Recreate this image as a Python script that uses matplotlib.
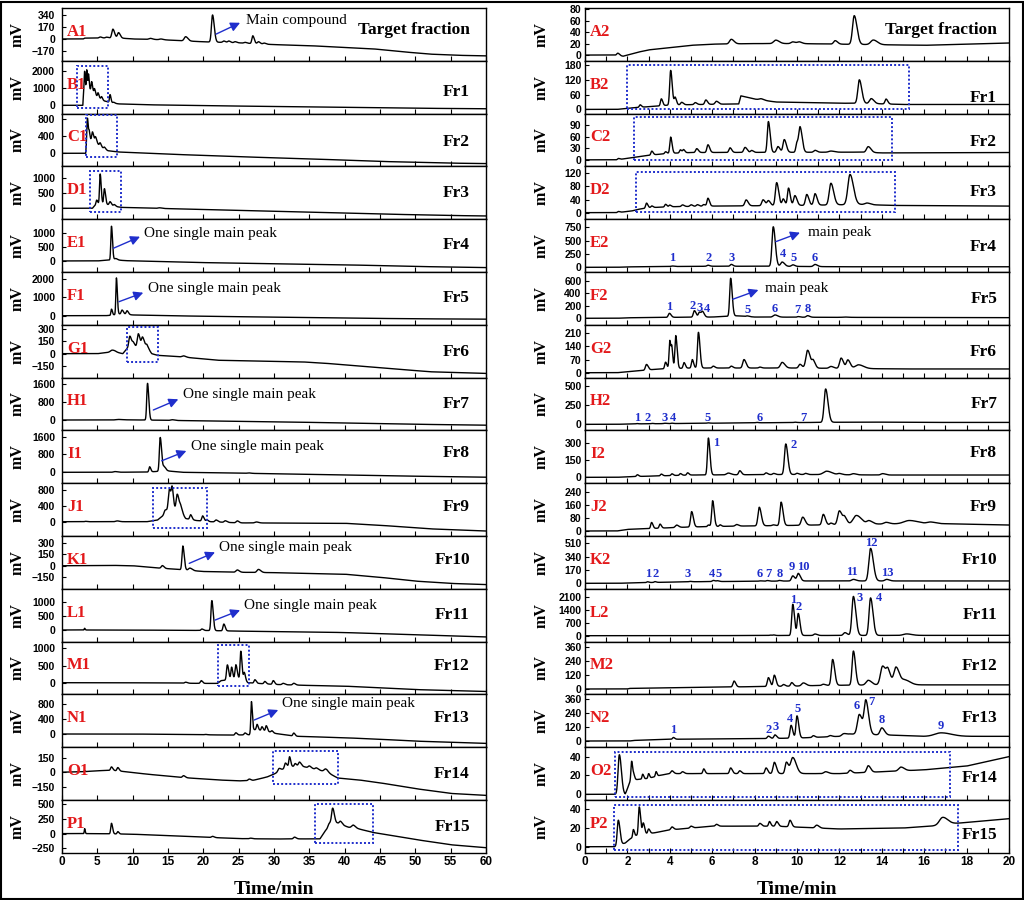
import numpy as np
import matplotlib
matplotlib.use("Agg")
import matplotlib.pyplot as plt
from matplotlib.patches import Rectangle
from matplotlib.ticker import MultipleLocator

# ---------------- data ----------------
# baselines: (time min, mV) knots; peaks: (time min, height mV, width min)
left_tags = ["A1", "B1", "C1", "D1", "E1", "F1", "G1", "H1",
             "I1", "J1", "K1", "L1", "M1", "N1", "O1", "P1"]
right_tags = ["A2", "B2", "C2", "D2", "E2", "F2", "G2", "H2",
              "I2", "J2", "K2", "L2", "M2", "N2", "O2", "P2"]
fraction_names = ["Target fraction"] + [f"Fr{i}" for i in range(1, 16)]

left_yticks = [[-170, 0, 170, 340], [0, 1000, 2000], [0, 400, 800], [0, 500, 1000],
               [0, 500, 1000], [0, 1000, 2000], [-150, 0, 150, 300], [0, 800, 1600],
               [0, 800, 1600], [0, 400, 800], [-150, 0, 150, 300], [0, 500, 1000],
               [0, 500, 1000], [0, 400, 800], [-150, 0, 150], [-250, 0, 250, 500]]
right_yticks = [[0, 20, 40, 60, 80], [0, 60, 120, 180], [0, 30, 60, 90], [0, 40, 80, 120],
                [0, 250, 500, 750], [0, 200, 400, 600], [0, 70, 140, 210], [0, 250, 500],
                [0, 150, 300], [0, 80, 160, 240], [0, 170, 340, 510], [0, 700, 1400, 2100],
                [0, 120, 240, 360], [0, 120, 240, 360], [0, 20, 40], [0, 20, 40]]

A1_base = [(0, 0), (3, 0), (3.2, 12), (8, 15), (10, 0), (14, -10), (20, -40), (25, -55), (30, -80),
           (35, -95), (41, -125), (44, -140), (48, -180), (52, -215), (56, -232), (60, -240)]
A1_peaks = [(5.4, 15, 0.15), (6.3, 12, 0.15), (7.2, 125, 0.15), (8.0, 75, 0.15), (12.5, 15, 0.2),
            (14.0, 10, 0.2), (17.5, 60, 0.2), (21.3, 385, 0.15), (22.9, 20, 0.15), (23.6, 22, 0.15),
            (24.5, 15, 0.15), (25.9, 12, 0.15), (27.0, 110, 0.13), (27.8, 30, 0.15), (28.6, 15, 0.15)]
B1_base = [(0, 0), (2.95, 0), (3.05, 800), (4.0, 900), (5.0, 500), (6.0, 250), (7.0, 150), (8.0, 80),
           (12, 30), (20, -20), (30, -70), (40, -120), (50, -170), (60, -200)]
B1_peaks = [(3.2, 1150, 0.06), (3.5, 1200, 0.06), (3.75, 900, 0.06), (4.2, 550, 0.08), (4.6, 300, 0.08),
            (5.1, 250, 0.08), (5.6, 150, 0.08), (6.8, 450, 0.08), (7.3, 50, 0.1)]
C1_base = [(0, 0), (3.35, 0), (3.5, 300), (4.5, 300), (5.5, 150), (6.5, 60), (8, 30), (15, -20),
           (25, -80), (35, -130), (45, -190), (55, -230), (60, -240)]
C1_peaks = [(3.6, 520, 0.07), (3.85, 200, 0.07), (4.3, 200, 0.1), (4.75, 120, 0.1), (5.4, 80, 0.1),
            (6.0, 40, 0.1)]
D1_base = [(0, 0), (4.3, 0), (4.6, 80), (5.5, 150), (6.5, 120), (7.5, 60), (8.5, 30), (15, -10),
           (25, -70), (35, -130), (45, -190), (55, -240), (60, -255)]
D1_peaks = [(4.9, 170, 0.1), (5.4, 1000, 0.09), (6.0, 520, 0.1), (6.8, 120, 0.12), (7.4, 60, 0.12),
            (13.8, 20, 0.2)]
E1_base = [(0, 0), (5, 0), (6.5, 30), (7.5, 40), (9, 10), (15, -30), (20, -60), (30, -100),
           (40, -140), (50, -200), (60, -240)]
E1_peaks = [(7.0, 1220, 0.09), (7.6, 50, 0.15)]
F1_base = [(0, 0), (6, 0), (7, 20), (8, 100), (9, 80), (10, 40), (15, 0), (20, -30), (30, -80),
           (40, -130), (50, -170), (60, -190)]
F1_peaks = [(7.0, 340, 0.08), (7.7, 2000, 0.08), (8.5, 220, 0.12), (9.2, 200, 0.12)]
G1_base = [(0, 0), (5, 0), (6.5, 15), (7.5, 20), (8.6, 0), (9.2, 60), (12, 80), (12.7, 0), (13.5, -20),
           (17, -40), (22, -80), (30, -95), (34, -100), (37, -115), (45, -170), (52, -220), (60, -240)]
G1_peaks = [(7.1, 25, 0.25), (9.6, 150, 0.15), (10.1, 60, 0.15), (10.8, 170, 0.15), (11.4, 120, 0.15),
            (12.0, 30, 0.15), (17.2, 15, 0.2)]
H1_base = [(0, 0), (7, 0), (8, 10), (10, 5), (14, -10), (20, -40), (30, -80), (40, -130),
           (50, -190), (60, -230)]
H1_peaks = [(8.0, 15, 0.3), (12.1, 1630, 0.11), (15.6, 30, 0.2)]
I1_base = [(0, 0), (6, 0), (12, 10), (13.5, 40), (15, 60), (17, 0), (25, -40), (35, -90),
           (45, -150), (55, -200), (60, -220)]
I1_peaks = [(7.5, 30, 0.2), (12.4, 230, 0.1), (13.9, 1520, 0.12), (14.45, 200, 0.15), (26.4, 20, 0.2)]
J1_base = [(0, 0), (12, 0), (13.5, 40), (15, 250), (16.5, 300), (17.5, 80), (19, 30), (21, 0),
           (25, -30), (40, -40), (45, -90), (52, -180), (60, -235)]
J1_peaks = [(3.3, 10, 0.1), (7.8, 20, 0.2), (14.6, 100, 0.15), (15.2, 560, 0.15), (15.6, 480, 0.12),
            (16.3, 400, 0.15), (16.8, 150, 0.15), (18.2, 120, 0.12), (19.9, 130, 0.12),
            (20.5, 40, 0.12), (21.8, 50, 0.15), (23.1, 40, 0.15), (24.8, 50, 0.15), (27.5, 25, 0.2)]
K1_base = [(0, 0), (7, 5), (10, 0), (13, -25), (16, -45), (20, -75), (25, -85), (30, -90),
           (40, -110), (45, -150), (50, -200), (55, -230), (60, -245)]
K1_peaks = [(14.2, 35, 0.15), (17.1, 310, 0.12), (18.1, 30, 0.2), (24.8, 30, 0.18), (27.8, 40, 0.2)]
L1_base = [(0, 0), (10, 0), (15, -10), (20, -15), (25, -40), (35, -70), (40, -90), (50, -170), (60, -245)]
L1_peaks = [(3.2, 60, 0.05), (19.8, 50, 0.12), (21.2, 1060, 0.12), (22.9, 240, 0.12)]
M1_base = [(0, 0), (8, 0), (12, -5), (20, -20), (22, -20), (22.5, 60), (25.5, 120), (26.3, 0),
           (30, -50), (35, -80), (40, -100), (45, -150), (50, -200), (60, -255)]
M1_peaks = [(17.5, 30, 0.15), (19.7, 80, 0.12), (23.4, 440, 0.12), (24.0, 360, 0.1), (24.6, 420, 0.12),
            (25.3, 800, 0.1), (25.8, 220, 0.1), (27.3, 100, 0.12), (28.7, 70, 0.12), (29.9, 110, 0.12),
            (31.3, 40, 0.15), (32.8, 50, 0.15)]
N1_base = [(0, 0), (10, 0), (20, -20), (24, -30), (26.5, -20), (27, 120), (29, 80), (30, 20),
           (33, -60), (40, -100), (45, -140), (50, -190), (60, -250)]
N1_peaks = [(20.3, 10, 0.15), (24.6, 60, 0.12), (25.9, 50, 0.12), (26.8, 800, 0.08), (27.6, 150, 0.1),
            (28.3, 100, 0.1), (28.9, 140, 0.1), (29.7, 50, 0.12), (32.8, 80, 0.12)]
O1_base = [(0, 0), (3, 5), (5, 15), (7, 20), (9, 5), (12, -20), (17, -55), (22, -80), (25, -90),
           (27, -85), (29, -50), (30, -20), (31, 20), (32, 60), (34, 60), (36, 30), (37.5, 0),
           (39, -60), (42, -80), (45, -110), (50, -170), (55, -220), (60, -240)]
O1_peaks = [(3.2, 10, 0.05), (7.0, 35, 0.12), (7.9, 35, 0.12), (17.2, 20, 0.15), (26.5, 15, 0.15),
            (30.7, 30, 0.15), (31.6, 50, 0.12), (32.2, 100, 0.1), (33.0, 30, 0.12), (33.6, 45, 0.15),
            (35.0, 20, 0.15), (36.0, 15, 0.15), (37.3, 30, 0.2)]
P1_base = [(0, 0), (5, 0), (10, -10), (15, -35), (20, -60), (25, -85), (30, -92), (33, -90),
           (36.5, -90), (37.2, 40), (38, 150), (39, 180), (40.5, 110), (42, 80), (44, 20), (45, 0),
           (50, -100), (55, -190), (60, -240)]
P1_peaks = [(3.2, 85, 0.05), (7.0, 180, 0.1), (7.9, 40, 0.1), (21.3, 20, 0.15), (26.7, 10, 0.15),
            (32.9, 30, 0.15), (37.8, 50, 0.15), (38.3, 270, 0.15), (39.4, 50, 0.15), (41.2, 50, 0.2)]

A2_base = [(0, 0), (1.4, 0), (1.8, -2), (2.5, 5), (3, 9), (4, 13), (5, 17), (6, 19), (8, 20),
           (10, 20), (12, 19), (14, 18), (16, 17), (18, 19), (20, 21)]
A2_peaks = [(1.55, 4, 0.05), (6.9, 8, 0.08), (9.0, 6, 0.1), (9.8, 3, 0.08), (10.1, 3, 0.08),
            (11.8, 6, 0.07), (12.7, 50, 0.08), (13.6, 8, 0.12)]
B2_base = [(0, 0), (1.5, 0), (2.5, 8), (3.5, 14), (4, 18), (7, 22), (7.25, 22), (7.35, 55), (8, 42),
           (9, 30), (12, 25), (13, 25), (15, 20), (20, 20)]
B2_peaks = [(2.6, 10, 0.04), (3.6, 28, 0.04), (4.04, 140, 0.045), (4.25, 30, 0.04), (4.56, 10, 0.05),
            (5.2, 8, 0.05), (5.7, 18, 0.05), (6.2, 12, 0.06), (8.3, 5, 0.08), (12.94, 95, 0.07),
            (13.5, 20, 0.08), (14.2, 20, 0.05)]
C2_base = [(0, 0), (1.5, 0), (2.5, 8), (3.2, 13), (4, 17), (5, 19), (13, 20), (14, 18), (20, 19)]
C2_peaks = [(1.57, 3, 0.04), (3.15, 10, 0.04), (3.8, 5, 0.04), (4.04, 42, 0.04), (4.5, 8, 0.04),
            (4.65, 8, 0.04), (5.27, 10, 0.05), (5.8, 20, 0.05), (6.84, 12, 0.05), (7.55, 13, 0.06),
            (7.86, 5, 0.05), (8.65, 80, 0.05), (9.1, 15, 0.06), (9.4, 33, 0.06), (10.0, 25, 0.05),
            (10.15, 62, 0.06), (10.85, 5, 0.06), (11.6, 3, 0.1), (13.36, 15, 0.08)]
D2_base = [(0, 0), (1.5, 0), (2.2, 5), (2.5, 10), (3, 15), (4, 18), (6, 20), (10, 22), (13, 25),
           (14.5, 22), (20, 20)]
D2_peaks = [(1.57, 3, 0.04), (2.9, 15, 0.04), (3.15, 5, 0.04), (3.8, 8, 0.04), (4.0, 5, 0.04),
            (4.6, 5, 0.05), (5.0, 5, 0.05), (5.3, 5, 0.05), (5.6, 5, 0.05), (5.8, 24, 0.045),
            (7.6, 18, 0.06), (8.4, 18, 0.06), (8.65, 15, 0.06), (9.04, 70, 0.06), (9.35, 20, 0.05),
            (9.6, 53, 0.05), (9.9, 30, 0.06), (10.46, 33, 0.06), (10.85, 35, 0.06), (11.6, 66, 0.08),
            (12.5, 92, 0.1), (13.3, 5, 0.1)]
E2_base = [(0, 0), (1.5, 0), (2, 8), (4, 15), (6, 20), (9, 20), (12, 10), (20, 10)]
E2_peaks = [(4.1, 10, 0.05), (5.8, 20, 0.05), (6.9, 35, 0.05), (8.88, 740, 0.06), (9.3, 80, 0.07),
            (9.8, 30, 0.06), (10.85, 40, 0.07)]
F2_base = [(0, 0), (1.5, 0), (2, 8), (4, 15), (6, 20), (7.2, 40), (8, 20), (12, 15), (20, 10)]
F2_peaks = [(3.98, 65, 0.05), (5.16, 105, 0.05), (5.4, 80, 0.05), (5.55, 80, 0.05), (6.87, 610, 0.045),
            (7.66, 10, 0.05), (8.96, 35, 0.08), (10.06, 10, 0.05), (10.5, 25, 0.06), (12.26, 5, 0.1)]
G2_base = [(0, 0), (1.5, 0), (2, 5), (2.5, 10), (3, 15), (3.5, 20), (5, 25), (10, 25), (15, 20), (20, 20)]
G2_peaks = [(2.9, 30, 0.05), (3.8, 35, 0.04), (4.0, 150, 0.035), (4.1, 90, 0.03), (4.28, 175, 0.04),
            (4.67, 30, 0.04), (5.06, 45, 0.04), (5.35, 190, 0.045), (6.05, 10, 0.05), (6.9, 10, 0.05),
            (7.5, 45, 0.06), (8.25, 5, 0.05), (9.3, 30, 0.08), (10.14, 20, 0.06), (10.5, 95, 0.08),
            (10.77, 35, 0.06), (11.6, 10, 0.08), (12.08, 55, 0.07), (12.4, 45, 0.07), (12.9, 20, 0.15)]
H2_base = [(0, 0), (1.5, 0), (2, 5), (4, 10), (8, 20), (11, 25), (13, 30), (16, 25), (20, 25)]
H2_peaks = [(2.45, 4, 0.04), (3.15, 5, 0.04), (3.75, 5, 0.04), (4.1, 5, 0.04), (5.8, 5, 0.05),
            (8.1, 5, 0.05), (9.9, 5, 0.05), (11.35, 435, 0.07)]
I2_base = [(0, 0), (1.5, 0), (2, 5), (3, 10), (4, 15), (5, 20), (10, 25), (14, 20), (20, 20)]
I2_peaks = [(2.47, 15, 0.04), (3.6, 15, 0.04), (4.1, 15, 0.04), (4.5, 15, 0.04), (4.84, 20, 0.04),
            (5.82, 320, 0.045), (6.76, 15, 0.08), (7.3, 35, 0.05), (8.54, 15, 0.05), (8.9, 10, 0.05),
            (9.47, 265, 0.06), (10.0, 10, 0.05), (10.4, 10, 0.05), (11.4, 30, 0.15), (12.0, 10, 0.08),
            (12.66, 10, 0.08), (14.04, 12, 0.08)]
J2_base = [(0, 0), (1.5, 0), (2, 10), (3, 15), (4, 20), (5, 25), (7, 30), (10, 35), (12, 40),
           (15, 45), (17, 45), (20, 37)]
J2_peaks = [(3.14, 37, 0.04), (3.54, 25, 0.04), (4.32, 15, 0.06), (5.03, 95, 0.05), (5.82, 10, 0.04),
            (6.02, 160, 0.045), (6.37, 10, 0.04), (7.15, 10, 0.06), (8.22, 115, 0.06), (8.88, 5, 0.05),
            (9.25, 145, 0.055), (10.27, 50, 0.07), (11.24, 65, 0.06), (11.6, 10, 0.05), (12.0, 85, 0.08),
            (12.25, 40, 0.07), (12.8, 55, 0.15), (13.4, 20, 0.1), (14.2, 10, 0.1), (15.3, 20, 0.25),
            (16.3, 10, 0.15)]
K2_base = [(0, 0), (1.5, 0), (3, 10), (5, 20), (10, 30), (20, 30)]
K2_peaks = [(2.95, 10, 0.04), (3.3, 10, 0.04), (4.95, 5, 0.05), (6.05, 15, 0.05), (6.25, 10, 0.05),
            (8.25, 5, 0.05), (8.6, 8, 0.05), (9.17, 8, 0.05), (9.8, 65, 0.06), (10.06, 95, 0.06),
            (12.66, 20, 0.08), (13.47, 415, 0.08), (14.23, 20, 0.08)]
L2_base = [(0, 0), (5, 0), (8, 10), (20, 20)]
L2_peaks = [(8.73, 20, 0.04), (8.9, 30, 0.04), (9.8, 1680, 0.05), (10.06, 1180, 0.05), (10.85, 80, 0.06),
            (12.26, 150, 0.07), (12.66, 2100, 0.07), (13.47, 2020, 0.07), (15.17, 80, 0.15)]
M2_base = [(0, 0), (2, 0), (2.1, 5), (4, 10), (8, 20), (10, 25), (11, 30), (14, 35), (20, 35)]
M2_peaks = [(7.03, 50, 0.05), (8.65, 75, 0.05), (8.93, 95, 0.05), (9.36, 15, 0.05), (9.75, 30, 0.05),
            (10.3, 25, 0.08), (11.24, 10, 0.06), (11.68, 220, 0.06), (12.66, 290, 0.06), (13.36, 40, 0.1),
            (14.04, 160, 0.1), (14.3, 100, 0.08), (14.67, 150, 0.1), (15.1, 40, 0.15)]
N2_base = [(0, 0), (2.1, 0), (2.3, 5), (4, 15), (8, 20), (10, 25), (12, 40), (12.5, 60), (14.5, 50),
           (16, 40), (20, 40)]
N2_peaks = [(4.17, 15, 0.04), (8.65, 20, 0.05), (8.96, 30, 0.05), (9.72, 110, 0.05), (10.0, 190, 0.05),
            (10.77, 15, 0.05), (11.56, 10, 0.06), (12.2, 15, 0.08), (12.94, 170, 0.09), (13.25, 280, 0.08),
            (14.0, 60, 0.08), (16.8, 30, 0.3)]
O2_base = [(0, 0), (1.45, 0), (1.9, 0), (2.15, 15), (3, 17), (3.5, 20), (4, 22), (6, 22), (9, 22),
           (12, 22), (16, 26), (18, 30), (20, 40)]
O2_peaks = [(1.62, 42, 0.06), (2.2, 20, 0.03), (2.3, 5, 0.03), (2.72, 5, 0.03), (3.0, 5, 0.03),
            (3.35, 5, 0.03), (4.1, 3, 0.05), (4.6, 2, 0.05), (5.6, 5, 0.04), (6.87, 6, 0.05), (7.3, 3, 0.05),
            (8.54, 6, 0.05), (8.93, 12, 0.06), (9.5, 12, 0.06), (9.8, 17, 0.1), (11.35, 2, 0.08),
            (12.5, 3, 0.06), (13.36, 7, 0.07), (14.9, 4, 0.1)]
P2_base = [(0, 0), (1.4, 0), (1.9, 4), (2.1, 8), (2.4, 12), (3.3, 15), (4, 18), (5, 20), (6, 22),
           (9, 22), (11, 20), (12, 19), (15, 20), (16.3, 22), (17.5, 25), (20, 30)]
P2_peaks = [(1.57, 27, 0.05), (2.28, 8, 0.03), (2.56, 30, 0.04), (2.75, 12, 0.04), (3.0, 5, 0.04),
            (4.1, 3, 0.05), (5.0, 2, 0.05), (6.2, 2, 0.05), (8.25, 3, 0.05), (8.7, 5, 0.04),
            (9.04, 5, 0.05), (9.67, 7, 0.05), (10.93, 3, 0.07), (16.87, 8, 0.15)]

left_bases = [A1_base, B1_base, C1_base, D1_base, E1_base, F1_base, G1_base, H1_base,
              I1_base, J1_base, K1_base, L1_base, M1_base, N1_base, O1_base, P1_base]
left_peaks = [A1_peaks, B1_peaks, C1_peaks, D1_peaks, E1_peaks, F1_peaks, G1_peaks, H1_peaks,
              I1_peaks, J1_peaks, K1_peaks, L1_peaks, M1_peaks, N1_peaks, O1_peaks, P1_peaks]
right_bases = [A2_base, B2_base, C2_base, D2_base, E2_base, F2_base, G2_base, H2_base,
               I2_base, J2_base, K2_base, L2_base, M2_base, N2_base, O2_base, P2_base]
right_peaks = [A2_peaks, B2_peaks, C2_peaks, D2_peaks, E2_peaks, F2_peaks, G2_peaks, H2_peaks,
               I2_peaks, J2_peaks, K2_peaks, L2_peaks, M2_peaks, N2_peaks, O2_peaks, P2_peaks]

# dotted boxes (t0, t1, mV0, mV1)
boxes = {"B1": (2.1, 6.5, -170, 2270), "C1": (3.4, 7.8, -80, 890), "D1": (3.9, 8.3, -130, 1240),
         "G1": (9.15, 13.6, -106, 320), "J1": (12.9, 20.5, -150, 860), "M1": (22.1, 26.5, -96, 1096),
         "O1": (29.8, 39.1, -127, 217), "P1": (35.8, 44.0, -160, 500),
         "B2": (2.0, 15.3, 0, 180), "C2": (2.3, 14.5, 0, 110), "D2": (2.4, 14.6, 3, 125),
         "O2": (1.4, 17.2, -2.5, 45), "P2": (1.35, 17.6, -3.5, 45)}

# peak numbers (label, t, mV)
peak_numbers = {
    "E2": [("1", 4.12, 170), ("2", 5.85, 170), ("3", 6.92, 170), ("4", 9.32, 244), ("5", 9.83, 170),
           ("6", 10.85, 170)],
    "F2": [("1", 3.98, 187), ("2", 5.08, 203), ("3", 5.42, 165), ("4", 5.74, 155), ("5", 7.66, 134),
           ("6", 8.93, 150), ("7", 10.0, 134), ("8", 10.5, 150)],
    "H2": [("1", 2.44, 78), ("2", 2.96, 78), ("3", 3.74, 78), ("4", 4.13, 78), ("5", 5.79, 78),
           ("6", 8.22, 78), ("7", 10.3, 78)],
    "I2": [("1", 6.2, 300), ("2", 9.86, 282)],
    "K2": [("1", 2.96, 119), ("2", 3.33, 119), ("3", 4.83, 119), ("4", 5.97, 119), ("5", 6.29, 119),
           ("6", 8.25, 119), ("7", 8.65, 119), ("8", 9.17, 119), ("9", 9.75, 204), ("10", 10.3, 208),
           ("11", 12.6, 140), ("12", 13.49, 519), ("13", 14.28, 137)],
    "L2": [("1", 9.8, 1922), ("2", 10.1, 1562), ("3", 12.97, 2014), ("4", 13.88, 2014)],
    "N2": [("1", 4.17, 94), ("2", 8.65, 94), ("3", 8.99, 123), ("4", 9.66, 186), ("5", 10.05, 271),
           ("6", 12.81, 300), ("7", 13.52, 337), ("8", 13.99, 180), ("9", 16.8, 129)],
}

# arrow notes: text, arrow tail, arrow head, text anchor
notes = {
    "A1": ("Main compound", (21.8, 69), (25.2, 230), (26.1, 267)),
    "E1": ("One single main peak", (7.27, 458), (11.04, 877), (11.6, 1000)),
    "F1": ("One single main peak", (8.07, 770), (11.5, 1264), (12.2, 1505)),
    "H1": ("One single main peak", (12.92, 444), (16.46, 920), (17.08, 1142)),
    "I1": ("One single main peak", (14.1, 516), (17.6, 960), (18.2, 1169)),
    "K1": ("One single main peak", (18.0, 31), (21.65, 175), (22.2, 235)),
    "L1": ("One single main peak", (21.65, 350), (25.2, 700), (25.75, 874)),
    "N1": ("One single main peak", (27.2, 373), (30.6, 640), (31.2, 800)),
    "E2": ("main peak", (9.0, 481), (10.14, 650), (10.5, 650)),
    "F2": ("main peak", (6.97, 306), (8.18, 456), (8.5, 477)),
}

# ---------------- layout ----------------
left_ylims = [(-310, 440), (-480, 2570), (-306, 926), (-363, 1397), (-400, 1510), (-500, 2400),
              (-291, 351), (-462, 1884), (-490, 1883), (-361, 972), (-300, 387), (-410, 1456),
              (-340, 1195), (-352, 1056), (-288, 259), (-327, 573)]
right_ylims = [(-10, 82), (-17, 197), (-17, 120), (-20, 141), (-88, 902), (-105, 745), (-26, 255),
               (-79, 609), (-51, 407), (-31, 296), (-70, 603), (-318, 2525), (-46, 403), (-53, 399),
               (-6, 50), (-6.5, 50)]
left_name_y = [.58, .415, .47, .49, .51, .5, .49, .5, .57, .54, .55, .51, .53, .55, .5, .49]
right_name_y = [.58, .29, .47, .52, .48, .48, .49, .5, .57, .54, .55, .51, .53, .55, .41, .34]

RED = "#e3191b"
BLUE = "#1f2ecc"
SERIF = "Liberation Serif"
SANS = "Liberation Sans"

W, H = 1024, 900
TOP, ROW = 8, 52.8


def trace(t, base, peaks):
    bt, bv = zip(*base)
    y = np.interp(t, bt, bv)
    for t0, h, w in peaks:
        s = np.where(t < t0, w, 1.6 * w)
        y = y + h * np.exp(-0.5 * ((t - t0) / s) ** 2)
    return y


fig = plt.figure(figsize=(W / 100, H / 100), dpi=100)

columns = [
    (62, 60, left_tags, left_bases, left_peaks, left_yticks, left_ylims, left_name_y, 0.962, 5, 18),
    (585, 20, right_tags, right_bases, right_peaks, right_yticks, right_ylims, right_name_y, 0.972, 2.5, 542),
]

for (x0, tmax, tags, bases, peaks, yticks, ylims, name_y, name_x, ypad, mv_x) in columns:
    t = np.linspace(0, tmax, 8000)
    for i in range(16):
        bottom = 1 - (TOP + ROW * (i + 1)) / H
        ax = fig.add_axes([x0 / W, bottom, 424 / W, ROW / H])
        ax.plot(t, trace(t, bases[i], peaks[i]), color="black", lw=1.0)
        ax.set_xlim(0, tmax)
        ax.set_ylim(*ylims[i])
        ax.set_yticks(yticks[i])
        if tmax == 60:
            ax.xaxis.set_major_locator(MultipleLocator(5))
        else:
            ax.xaxis.set_major_locator(MultipleLocator(2))
            ax.xaxis.set_minor_locator(MultipleLocator(1))
        ax.tick_params(axis="x", which="both", direction="in", length=3.5, width=0.8,
                       labelbottom=(i == 15), pad=2)
        ax.tick_params(axis="y", direction="in", length=3, width=0.8, pad=ypad)
        for lab in ax.get_yticklabels():
            lab.set_fontfamily(SANS)
            lab.set_fontweight("bold")
            lab.set_fontsize(7.5)
        for lab in ax.get_xticklabels():
            lab.set_fontfamily(SANS)
            lab.set_fontweight("bold")
            lab.set_fontsize(8.5)
        for sp in ax.spines.values():
            sp.set_linewidth(1.0)

        tag = tags[i]
        ax.text(0.012, 0.55, tag, transform=ax.transAxes, color=RED, fontsize=12,
                fontweight="bold", family=SERIF, ha="left", va="center")
        ax.text(name_x, name_y[i], fraction_names[i], transform=ax.transAxes, fontsize=12.5,
                fontweight="bold", family=SERIF, ha="right", va="center")
        fig.text(mv_x / W, bottom + ROW / H / 2, "mV", rotation=90, fontsize=11.5,
                 fontweight="bold", family=SERIF, ha="center", va="center")

        if tag in boxes:
            b0, b1, y0, y1 = boxes[tag]
            ax.add_patch(Rectangle((b0, y0), b1 - b0, y1 - y0, fill=False, ec=BLUE,
                                   lw=1.4, ls=(0, (1, 1.1)), zorder=3))
        for txt, tx, ty in peak_numbers.get(tag, []):
            ax.text(tx, ty, txt, color=BLUE, fontsize=9, fontweight="bold", family=SERIF,
                    ha="center", va="center")
        if tag in notes:
            txt, tail, head, anchor = notes[tag]
            ax.annotate("", xy=head, xytext=tail,
                        arrowprops=dict(arrowstyle="-|>", color=BLUE, lw=1.0,
                                        mutation_scale=14, shrinkA=0, shrinkB=0))
            ax.text(anchor[0], anchor[1], txt, fontsize=11, family=SERIF,
                    ha="left", va="center")

    fig.text((x0 + 212) / W, 1 - 889 / H, "Time/min", fontsize=14, fontweight="bold",
             family=SERIF, ha="center", va="center")

fig.add_artist(Rectangle((0.5 / W, 1.5 / H), 1 - 2 / W, 1 - 3 / H, transform=fig.transFigure,
                         fill=False, ec="black", lw=1.5))

fig.savefig("out.png", dpi=100)
